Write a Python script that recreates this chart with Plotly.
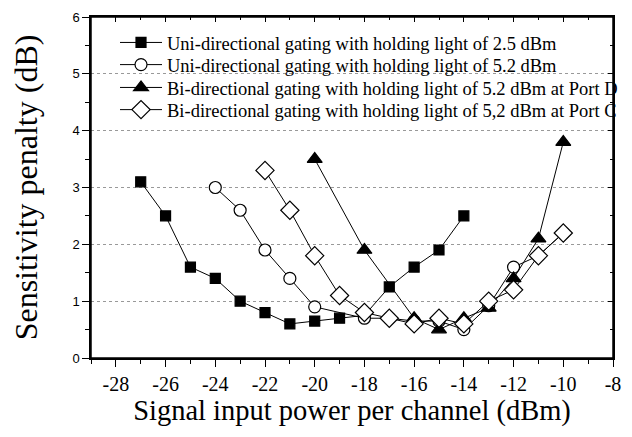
"""Sensitivity penalty vs signal input power."""

import plotly.graph_objects as go

# filled squares
uni25_x = [-27, -26, -25, -24, -23, -22, -21, -20, -19, -18, -17, -16, -15, -14]
uni25_y = [3.1, 2.5, 1.6, 1.4, 1.0, 0.8, 0.6, 0.65, 0.7, 0.75, 1.25, 1.6, 1.9, 2.5]

# open circles
uni52_x = [-24, -23, -22, -21, -20, -18, -17, -16, -15, -14, -13, -12, -11, -10]
uni52_y = [3.0, 2.6, 1.9, 1.4, 0.9, 0.7, 0.7, 0.65, 0.65, 0.5, 0.92, 1.6, 1.8, 2.2]

# filled triangles
biD_x = [-20, -18, -16, -15, -14, -13, -12, -11, -10]
biD_y = [3.5, 1.9, 0.7, 0.5, 0.7, 0.88, 1.4, 2.1, 3.8]

# open diamonds
biC_x = [-22, -21, -20, -19, -18, -17, -16, -15, -14, -13, -12, -11, -10]
biC_y = [3.3, 2.6, 1.8, 1.1, 0.8, 0.7, 0.6, 0.7, 0.6, 1.0, 1.2, 1.8, 2.2]

names = [
    "Uni-directional gating with holding light of 2.5 dBm",
    "Uni-directional gating with holding light of 5.2 dBm",
    "Bi-directional gating with holding light of 5.2 dBm at Port D",
    "Bi-directional gating with holding light of 5,2 dBm at Port C",
]

x_ticks = list(range(-28, -7, 2))
x_labels = [str(v) for v in x_ticks]
y_ticks = [0, 1, 2, 3, 4, 5, 6]
y_labels = [str(v) for v in y_ticks]

SERIF = "Liberation Serif"
SANS = "Liberation Sans"

fig = go.Figure()

styles = [
    ("square", 10, "black"),
    ("circle", 12, "white"),
    ("triangle-up", 13, "black"),
    ("diamond", 14, "white"),
]
xs_all = [uni25_x, uni52_x, biD_x, biC_x]
ys_all = [uni25_y, uni52_y, biD_y, biC_y]
legend_rows = [0.924, 0.859, 0.792, 0.727]

for i, (xs, ys, name, (sym, size, fill)) in enumerate(zip(xs_all, ys_all, names, styles)):
    lg = "legend" if i == 0 else f"legend{i + 1}"
    fig.add_trace(go.Scatter(
        x=xs, y=ys, name=name, mode="lines+markers", legend=lg,
        line=dict(color="black", width=1),
        marker=dict(symbol=sym, size=size, color=fill,
                    line=dict(color="black", width=1.2)),
    ))

# invisible trace to drive the mirrored top/right axes
fig.add_trace(go.Scatter(x=[-29, -8], y=[0, 6], xaxis="x2", yaxis="y2",
                         mode="markers", marker=dict(opacity=0),
                         showlegend=False, hoverinfo="skip"))

def legend_box(yy):
    return dict(x=0.046, y=yy, xanchor="left", yanchor="middle", itemwidth=42,
                bgcolor="rgba(0,0,0,0)", font=dict(family=SERIF, size=18.5))

axis_line = dict(showline=True, linecolor="black", linewidth=1.5,
                 zeroline=False, automargin=False)

# page body adds an 8px offset, so the figure is 8px smaller on each axis
fig.update_layout(
    width=624, height=429,
    plot_bgcolor="white", paper_bgcolor="white",
    margin=dict(l=83, r=15, t=9, b=79),
    font=dict(family=SERIF, color="black"),
    showlegend=True,
    legend=legend_box(legend_rows[0]),
    legend2=legend_box(legend_rows[1]),
    legend3=legend_box(legend_rows[2]),
    legend4=legend_box(legend_rows[3]),
    xaxis=dict(
        range=[-29, -8], tickvals=x_ticks, ticktext=x_labels,
        ticks="outside", ticklen=7, tickcolor="black",
        tickfont=dict(family=SERIF, size=20), showgrid=False, mirror=True,
        minor=dict(dtick=1, ticks="outside", ticklen=4, tickcolor="black", showgrid=False),
        title=dict(text="Signal input power per channel (dBm)",
                   font=dict(family=SERIF, size=28.5), standoff=0),
        **axis_line,
    ),
    yaxis=dict(
        range=[0, 6], tickvals=y_ticks, ticktext=y_labels,
        ticks="outside", ticklen=7, tickcolor="black",
        tickfont=dict(family=SANS, size=13), mirror=True,
        showgrid=True, gridcolor="#999999", griddash="dot", gridwidth=1,
        minor=dict(dtick=0.5, ticks="outside", ticklen=4, tickcolor="black", showgrid=False),
        title=dict(text="Sensitivity penalty (dB)",
                   font=dict(family=SERIF, size=32), standoff=31),
        **axis_line,
    ),
    xaxis2=dict(
        range=[-29, -8], overlaying="x", side="top", tickvals=x_ticks,
        ticks="inside", ticklen=5, tickcolor="black",
        showticklabels=False, showgrid=False,
        minor=dict(dtick=1, ticks="inside", ticklen=3, tickcolor="black", showgrid=False),
        **axis_line,
    ),
    yaxis2=dict(
        range=[0, 6], overlaying="y", side="right", tickvals=y_ticks,
        ticks="inside", ticklen=5, tickcolor="black",
        showticklabels=False, showgrid=False,
        minor=dict(dtick=0.5, ticks="inside", ticklen=3, tickcolor="black", showgrid=False),
        **axis_line,
    ),
    shapes=[dict(type="rect", xref="paper", yref="paper", x0=0, y0=0, x1=1, y1=1,
                 line=dict(color="black", width=1.5), layer="above")],
)

fig.write_html("out.html")
